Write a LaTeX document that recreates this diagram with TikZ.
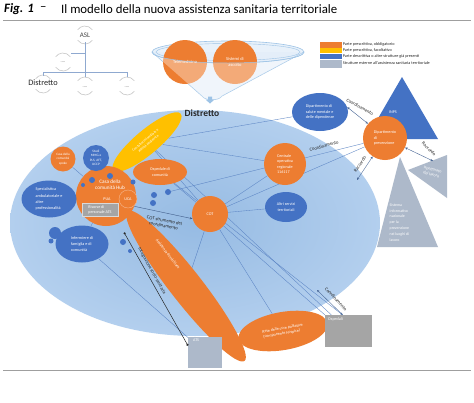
\documentclass[tikz,border=0pt]{standalone}
\usepackage{fontspec}
\setmainfont{Carlito}
\usetikzlibrary{shapes.geometric,arrows.meta}
\pgfdeclarelayer{bg}
\pgfdeclarelayer{lines}
\pgfsetlayers{bg,lines,main}
\definecolor{orng}{HTML}{ED7D31}
\definecolor{ylw}{HTML}{FFC000}
\definecolor{blu}{HTML}{4472C4}
\definecolor{gblu}{HTML}{ADB9CA}
\definecolor{gry}{HTML}{A5A5A5}
\definecolor{lnc}{HTML}{5B84C4}
\definecolor{dark}{HTML}{262626}
\definecolor{orgln}{HTML}{8FA9D0}
\definecolor{funl}{HTML}{9DC3E6}
\definecolor{funf}{HTML}{E3EEF9}
\definecolor{distin}{HTML}{96BBE3}
\definecolor{distout}{HTML}{B3CFEE}
\begin{document}
\begin{tikzpicture}[x=1pt,y=-1pt,
  tx/.style={font=\fontsize{4.1}{5.2}\selectfont, text=white, align=center, inner sep=0pt},
  oc/.style={circle, fill=orng, tx},
  bc/.style={circle, fill=blu, tx},
  oe/.style={ellipse, fill=orng, tx},
  be/.style={ellipse, fill=blu, tx},
  wt/.style={tx},
  dotn/.style={circle, fill=blu, inner sep=0pt},
  lab/.style={font=\fontsize{4.7}{5.3}\selectfont, text=dark, align=center, inner sep=0pt},
  ln/.style={draw=lnc, line width=0.35pt},
  dbl/.style={draw=lnc!75!black, line width=0.4pt, {Stealth[length=2.6pt,width=2.2pt]}-{Stealth[length=2.6pt,width=2.2pt]}},
  sgl/.style={draw=lnc!70!black, line width=0.4pt, -{Stealth[length=2.6pt,width=2.2pt]}},
  orgarc/.style={draw=gray!45, line width=0.6pt},
  orgt/.style={inner sep=0pt, text=dark!85},
  ldg/.style={font=\fontsize{4.2}{5}\selectfont, text=dark, anchor=west, inner sep=0pt},
  lgbox/.style={anchor=north west, inner sep=0pt, minimum width=22pt},
]
\useasboundingbox (0,0) rectangle (474,402);
\begin{pgfonlayer}{bg}
\fill[white] (0,0) rectangle (474,402);
\shade[inner color=distin, outer color=distout] (195,223) ellipse [x radius=185pt, y radius=113pt];
\end{pgfonlayer}

% title
\node[anchor=west, inner sep=0pt, font=\fontsize{12.8}{14}\selectfont\bfseries\itshape] (fig) at (4,9) {Fig. 1};
\node[anchor=west, inner sep=0pt, font=\fontsize{12.8}{14}\selectfont] (dsh) at (40,9) {–};
\node[anchor=west, inner sep=0pt, font=\fontsize{12.8}{14}\selectfont] (ttl) at (61,9) {Il modello della nuova assistenza sanitaria territoriale};
\draw[gray!75, line width=0.8pt] (3,20) -- (471,20);
\draw[gray!75, line width=0.8pt] (3,370) -- (471,370);

% org chart
\node[orgt, font=\fontsize{7}{8}\selectfont] (asl) at (85,35) {ASL};
\node[orgt, font=\fontsize{4.5}{5}\selectfont] (oa) at (63,62) {....};
\node[orgt, font=\fontsize{8.3}{9}\selectfont, text=dark] (odis) at (43,83) {Distretto};
\node[orgt, font=\fontsize{4.5}{5}\selectfont] (ob) at (85,87) {....};
\node[orgt, font=\fontsize{4.5}{5}\selectfont] (oc3) at (127,87) {....};
\foreach \cx/\cy in {85/35, 63/62, 43/84, 85/86, 127/86} {
  \draw[orgarc] ([shift={(35:9pt)}]\cx,\cy) arc[start angle=35, end angle=145, radius=9pt];
  \draw[orgarc] ([shift={(215:9pt)}]\cx,\cy) arc[start angle=215, end angle=325, radius=9pt];
}
\coordinate (j0) at (85,53);
\coordinate (j1) at (85,72);
\coordinate (jl) at (43,72);
\coordinate (jr) at (127,72);
\coordinate (jae) at (71,53);
\coordinate (jld) at (43,76);
\coordinate (jmd) at (85,77);
\coordinate (jrd) at (127,77);
\draw[orgln, line width=0.9pt] ([yshift=-5pt]asl.south) -- (j1);
\draw[orgln, line width=0.9pt] (j0) -- (jae);
\draw[orgln, line width=0.9pt] (jl) -- (jr);
\draw[orgln, line width=0.9pt] (jl) -- (jld);
\draw[orgln, line width=0.9pt] (j1) -- (jmd);
\draw[orgln, line width=0.9pt] (jr) -- (jrd);

% legend
\node[lgbox, fill=orng, minimum height=5.6pt] (lg1) at (320,41.7) {};
\node[lgbox, fill=ylw, minimum height=5pt] (lg2) at (320,47.7) {};
\node[lgbox, fill=blu, minimum height=5.4pt] (lg3) at (320,53.3) {};
\node[lgbox, fill=gblu, minimum height=8.4pt] (lg4) at (320,59.3) {};
\node[ldg] (lt1) at (342.7,44.6) {Parte prescrittiva, obbligatorio};
\node[ldg] (lt2) at (342.7,50.3) {Parte prescrittiva, facoltativo};
\node[ldg] (lt3) at (342.7,56) {Parte descrittiva o altre strutture già presenti};
\node[ldg] (lt4) at (342.7,63.5) {Strutture esterne all’assistenza sanitaria territoriale};

% funnel
\fill[funf, opacity=0.8] (152,52) -- (202,96) .. controls (205,101) and (219,101) .. (222,96) -- (304,52) -- cycle;
\fill[funf, opacity=0.8] (228,52) ellipse [x radius=76pt, y radius=11pt];
\draw[funl, line width=0.6pt] (152,52) -- (202,96) .. controls (205,101) and (219,101) .. (222,96) -- (304,52);
\draw[funl, line width=0.6pt] (228,52) ellipse [x radius=76pt, y radius=11pt];
\draw[funl, line width=0.4pt] (228,52) ellipse [x radius=72pt, y radius=8.5pt];
\node[oc, minimum size=44pt, font=\fontsize{4.5}{5.5}\selectfont] (tele) at (185,62) {Telemedicina};
\node[oc, minimum size=44pt, font=\fontsize{4.5}{5.5}\selectfont] (ascolto) at (235,62) {Sistemi di\\ascolto};
\fill[white, opacity=0.35] (152,52) -- (202,96) .. controls (205,101) and (219,101) .. (222,96) -- (304,52) .. controls (304,58.1) and (270,63) .. (228,63) .. controls (186,63) and (152,58.1) .. (152,52) -- cycle;
\draw[funl, line width=0.5pt] (304,52) .. controls (304,58.1) and (270,63) .. (228,63) .. controls (186,63) and (152,58.1) .. (152,52);
\fill[funl] (208,96.5) -- (212,96.5) -- (212,99.5) -- (214.5,99.5) -- (210,103.5) -- (205.5,99.5) -- (208,99.5) -- cycle;

% triangles
\fill[blu] (402,77) -- (366,139) -- (438,139) -- cycle;
\node[wt] (inpst) at (393,112) {INPS};
\fill[gblu] (408,170) -- (447,155) -- (447,198) -- cycle;
\node[wt, rotate=-15] (ispt) at (432,172) {Ispettorato\\del lavoro};
\fill[gblu] (400,157) -- (377,247) -- (438,247) -- cycle;
\node[wt, anchor=north west, align=left, font=\fontsize{3.9}{5.8}\selectfont] (sint) at (389.5,203.5) {Sistema\\informativo\\nazionale\\per la\\prevenzione\\nei luoghi di\\lavoro};

% main nodes
\node[ellipse, fill=ylw, tx, font=\fontsize{3.6}{4.6}\selectfont, minimum width=88pt, minimum height=24pt, rotate=40] (yel) at (147,142) {Consultorio familiare e\\attività pediatrica};
\node[oe, minimum width=54pt, minimum height=26pt] (osp) at (160,172) {Ospedale di\\comunità};
\node[oe, minimum width=190pt, minimum height=32pt, rotate=-52] (longell) at (186,286) {};
\node[wt, rotate=-52] (adlab) at (168,254) {Assistenza domiciliare};
\node[oe, minimum width=90pt, minimum height=38pt, rotate=10, align=left] (rete) at (283,331) {Rete delle cure palliative\\(componente hospice)};
\node[circle, fill=orng, minimum size=60pt, inner sep=0pt] (hub) at (106,196) {};
\node[wt, font=\fontsize{5.2}{6}\selectfont] (hubt) at (110,185) {Casa della\\comunità Hub};
\node[wt] (pua) at (107,199) {PUA};
\node[oc, minimum size=18pt, draw=orng!55!white, line width=0.4pt] (uca) at (128,199) {UCA};
\node[rectangle, fill=gry, draw=gray!30, line width=0.5pt, minimum width=36pt, minimum height=13pt, tx, align=left] (ris) at (100,210) {Risorse di\\personale ATS};
\node[oc, minimum size=25pt, font=\fontsize{3.3}{4.2}\selectfont] (spoke) at (63,159) {Casa della\\comunità\\spoke};
\node[bc, minimum size=26pt, font=\fontsize{3.4}{4.5}\selectfont] (mmg) at (96,158) {Studi\\MMG e\\PLS, AFT,\\UCCP};
\node[be, minimum width=55pt, minimum height=37pt, align=left, font=\fontsize{4.2}{6.2}\selectfont] (spec) at (49,199) {Specialistica\\ambulatoriale e\\altre\\professionalità};
\node[be, minimum width=53pt, minimum height=37pt, align=left, font=\fontsize{4.2}{6.2}\selectfont] (inf) at (82,244) {Infermiere di\\famiglia e di\\comunità};
\node[oc, minimum size=36pt] (cot) at (210,214) {COT};
\node[oc, minimum size=42pt, align=left] (cop) at (285,164) {Centrale\\operativa\\regionale\\116117};
\node[be, minimum width=42pt, minimum height=30pt] (altri) at (286,207) {Altri servizi\\territoriali};
\node[be, minimum width=56pt, minimum height=38pt, align=left] (dsm) at (320,112) {Dipartimento di\\salute mentale e\\delle dipendenze};
\node[oc, minimum size=44pt, align=left] (dp) at (385,138) {Dipartimento\\di\\prevenzione};
\node[rectangle, fill=gry, minimum width=47pt, minimum height=32pt, inner sep=0pt, anchor=north west] (osped) at (325,315) {};
\node[wt, anchor=north west] (ospt) at (328,317) {Ospedali};
\node[rectangle, fill=gblu, minimum width=34pt, minimum height=31pt, inner sep=0pt, anchor=north west] (ats) at (188,337) {};
\node[wt, anchor=north west] (atst) at (193,339) {ATS};

% dots
\node[dotn, minimum size=6pt] (b1) at (110,176) {};
\node[dotn, minimum size=6pt] (b2) at (92,180) {};
\node[dotn, minimum size=4pt] (b3) at (83,185) {};
\node[dotn, minimum size=5pt] (b4) at (133,182) {};
\node[dotn, minimum size=6pt] (b5) at (154,195) {};
\node[dotn, minimum size=6pt] (b6) at (153,203) {};
\node[dotn, minimum size=6pt] (b7) at (168,192) {};
\node[dotn, minimum size=12pt] (b8) at (55,233) {};
\node[dotn, minimum size=5pt] (b9) at (51,241) {};
\node[dotn, minimum size=6pt] (b10) at (123,242) {};
\node[dotn, minimum size=4pt] (b11) at (130,251) {};

\node[inner sep=0pt, font=\fontsize{9.5}{10}\selectfont\bfseries, text=dark] (dlab) at (202,113) {Distretto};

% connectors under nodes
\begin{pgfonlayer}{lines}
\draw[ln] (yel) -- (dsm);
\draw[ln] (yel) -- (cop);
\draw[ln] (yel) -- (cot);
\draw[ln] (yel) -- (osped);
\draw[ln] (osp) -- (cot);
\draw[ln] (osp) -- ([xshift=-6pt]osped.north);
\draw[ln] (b7) -- (dp);
\draw[ln] (cot) -- (dp);
\draw[ln] (cot) -- (cop);
\draw[ln] (cot) -- (altri);
\draw[ln] (cot) -- (longell);
\draw[ln] (cot) -- (rete);
\draw[ln] (cot) -- (osped.north west);
\draw[ln] (inf) -- (ats);
\draw[ln] (hub) -- (spec);
\draw[ln] (hub) -- (inf);
\draw[ln] (hub) -- (spoke);
\draw[ln] (hub) -- (mmg);
\end{pgfonlayer}

% labelled connectors
\draw[dbl] (dsm.10) -- (dp.140);
\node[lab, rotate=-28] (c1) at (360,107) {Coordinamento};
\node[lab, rotate=15] (c2) at (324,146) {Coordinamento};
\coordinate (rcA) at (357,180);
\draw[dbl] (rcA) -- (dp);
\node[lab, rotate=55] (r1) at (360,164) {Raccordo};
\coordinate (rcB) at (433,161);
\draw[dbl] (dp) -- (rcB);
\node[lab, rotate=-45] (r2) at (429,149) {Raccordo};
\coordinate (coA) at (317,290);
\draw[dbl] (coA) -- ([xshift=-6pt]osped.north);
\node[lab, rotate=-47] (c3) at (336,299) {Coordinamento};
\draw[sgl] (hub.-20) -- (cot.195);
\node[lab, rotate=-11] (cotl) at (164,223) {COT strumento del\\coordinamento};
\draw[black!85, line width=0.5pt, {Square[length=1.6pt,width=1.6pt]}-{Circle[length=2.2pt]}] ([shift={(4pt,-10pt)}]hub.-62) -- ([yshift=7pt]ats.west);
\node[lab, rotate=-61] (isl) at (152,271) {Integrazione socio-sanitaria};
\end{tikzpicture}
\end{document}
